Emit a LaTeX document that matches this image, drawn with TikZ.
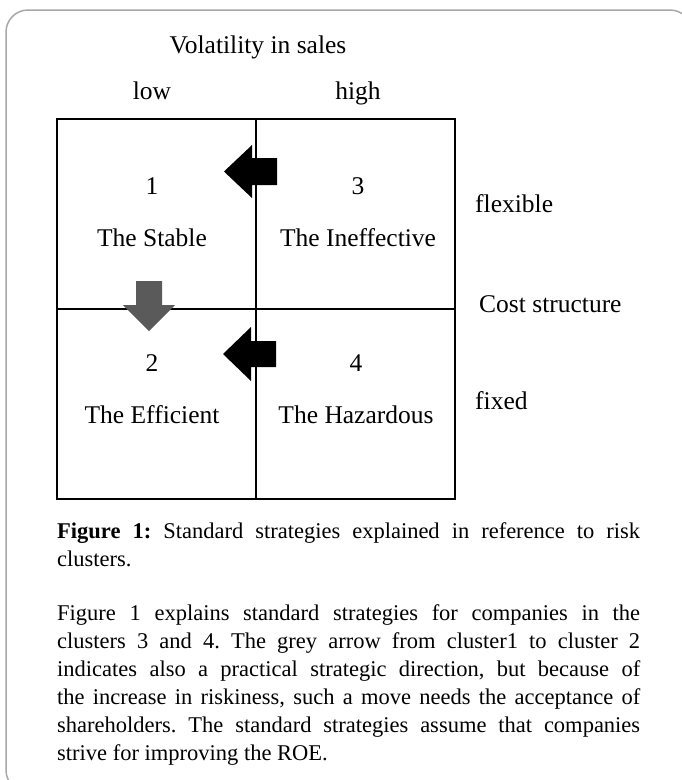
\documentclass[tikz,border=0pt]{standalone}
\usepackage{fontspec}
\setmainfont{Liberation Serif}
\definecolor{framegray}{HTML}{A8A8A8}
\definecolor{arrowgray}{HTML}{5A5A5A}
\frenchspacing
\begin{document}
\begin{tikzpicture}[x=1pt, y=-1pt,
    lbl/.style={font=\fontsize{25.5}{30}\selectfont, inner sep=0pt, anchor=base},
    gridline/.style={line width=2pt},
    bodytext/.style={font=\fontsize{22.5}{28}\selectfont, inner sep=0pt,
        text width=583pt, align=justify, anchor=north west}]
    \useasboundingbox (0,0) rectangle (681,780);
    \fill[white] (0,0) rectangle (681,780);
    \draw[framegray, line width=1.5pt, rounded corners=22pt]
        (6,10) rectangle (692,792);

    % matrix
    \draw[gridline] (57,119) rectangle (455,499);
    \draw[gridline] (256,119) -- (256,499);
    \draw[gridline] (57,309) -- (455,309);

    % strategy arrows
    \fill[black]
        (277,158) -- (252,158) -- (252,145) -- (224,171.5) -- (252,198)
        -- (252,185) -- (277,185) -- cycle;
    \fill[black]
        (276,341) -- (251,341) -- (251,327) -- (223,354) -- (251,381)
        -- (251,367) -- (276,367) -- cycle;
    \fill[arrowgray]
        (136,281) -- (136,305) -- (123,305) -- (149,331) -- (175,305)
        -- (162,305) -- (162,281) -- cycle;

    \node[lbl] (vol) at (258,53) {Volatility in sales};
    \node[lbl] (low) at (152,99) {low};
    \node[lbl] (high) at (358,99) {high};
    \node[lbl] (n1) at (152,194) {1};
    \node[lbl] (stable) at (152,246) {The Stable};
    \node[lbl] (n3) at (358,194) {3};
    \node[lbl] (ineffective) at (358,246) {The Ineffective};
    \node[lbl] (n2) at (152,371) {2};
    \node[lbl] (efficient) at (152,423) {The Efficient};
    \node[lbl] (n4) at (356,371) {4};
    \node[lbl] (hazardous) at (356,423) {The Hazardous};
    \node[lbl, anchor=base west] (flexible) at (475,212) {flexible};
    \node[lbl, anchor=base west] (cost) at (479,312) {Cost structure};
    \node[lbl, anchor=base west] (fixed) at (475,409) {fixed};

    \node[bodytext] (caption) at (57,518.4)
        {\strut\textbf{Figure 1:} Standard strategies explained in reference
        to risk\linebreak clusters.};
    \node[bodytext] (body) at (57,600.4)
        {\strut Figure 1 explains standard strategies for companies in
        the\linebreak clusters 3 and 4. The grey arrow from cluster1 to
        cluster 2\linebreak indicates also a practical strategic direction,
        but because of\linebreak the increase in riskiness, such a move needs
        the acceptance of\linebreak shareholders. The standard strategies
        assume that companies\linebreak strive for improving the ROE.};
\end{tikzpicture}
\end{document}
